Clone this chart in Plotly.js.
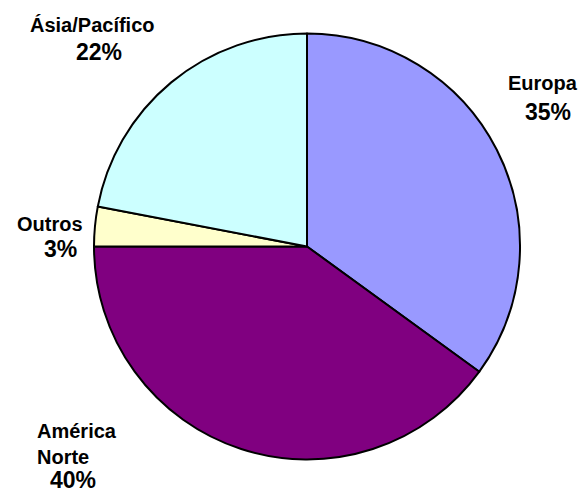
<!DOCTYPE html>
<html>
<head>
<meta charset="utf-8">
<script src="https://cdn.plot.ly/plotly-3.0.1.min.js"></script>
<style>html,body{margin:0;padding:0;background:#fff;}#chart{width:585px;height:495px;}</style>
</head>
<body>
<div id="chart"></div>
<script>
var categories = ['Europa', 'América<br>Norte', 'Outros', 'Ásia/Pacífico'];
var values = [35, 40, 3, 22];
var colors = ['#9999FF', '#800080', '#FFFFCC', '#CCFFFF'];

var W = 585, H = 495;
// label placement (pixels): name center, percent center
var namePos = [[543, 83], [35, 444], [50, 224], [92, 25]];
var nameAlign = ['center', 'left', 'center', 'center'];
var pctPos = [[548, 112], [73, 480], [60, 249], [99, 52]];

var annotations = [];
for (var i = 0; i < categories.length; i++) {
  annotations.push({
    xref: 'paper', yref: 'paper',
    x: namePos[i][0] / W, y: 1 - namePos[i][1] / H,
    xanchor: nameAlign[i] === 'left' ? 'left' : 'center', yanchor: 'middle',
    align: nameAlign[i],
    text: '<b>' + categories[i] + '</b>',
    showarrow: false,
    font: {family: 'Liberation Sans, Arial, sans-serif', size: 20, color: '#000'}
  });
  annotations.push({
    xref: 'paper', yref: 'paper',
    x: pctPos[i][0] / W, y: 1 - pctPos[i][1] / H,
    xanchor: 'center', yanchor: 'middle',
    text: '<b>' + values[i] + '%</b>',
    showarrow: false,
    font: {family: 'Liberation Sans, Arial, sans-serif', size: 23, color: '#000'}
  });
}

var trace = {
  type: 'pie',
  labels: categories,
  values: values,
  sort: false,
  direction: 'clockwise',
  rotation: 0,
  marker: {colors: colors, line: {color: '#000', width: 2}},
  textinfo: 'none',
  hoverinfo: 'label+percent',
  domain: {x: [94 / W, 520 / W], y: [1 - 460 / H, 1 - 33 / H]}
};

var layout = {
  width: W, height: H,
  margin: {l: 0, r: 0, t: 0, b: 0},
  showlegend: false,
  paper_bgcolor: '#fff',
  annotations: annotations
};

Plotly.newPlot('chart', [trace], layout, {displayModeBar: false, staticPlot: true});
</script>
</body>
</html>
